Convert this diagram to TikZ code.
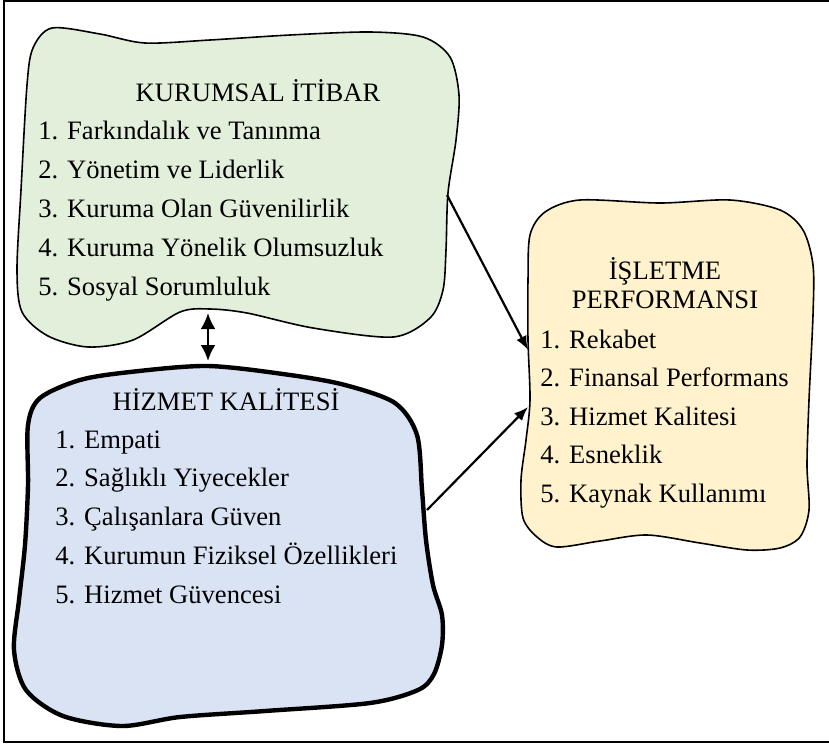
\documentclass[tikz,border=0pt]{standalone}
\usepackage{fontspec}
\setmainfont{Liberation Serif}
\usetikzlibrary{arrows.meta}

\definecolor{itibarfill}{HTML}{E2EFDA}
\definecolor{hizmetfill}{HTML}{DAE3F3}
\definecolor{isletmefill}{HTML}{FFF2CC}

\begin{document}
\begin{tikzpicture}[x=0.5pt, y=-0.5pt,
        every node/.style={font=\fontsize{13.3}{16}\selectfont, inner sep=0pt},
        itemtext/.style={anchor=base west},
        titletext/.style={anchor=base},
        link/.style={line width=1.1pt, -{Latex[length=7pt, width=5.5pt]}}]

        \useasboundingbox (0,0) rectangle (829,745);

        \draw[line width=1pt]
            (829,1.2) -- (3.5,1.2) -- (3.5,742) -- (829,742);

        \draw[line width=0.8pt, fill=itibarfill]
            plot[smooth cycle, tension=0.5] coordinates {
                (27,85) (33,48) (52,28) (100,34) (145,43) (210,40) (290,35)
                (370,32) (423,37) (450,57) (459,95) (456,140) (448,193)
                (446,250) (443,290) (430,318) (393,337) (313,328) (247,313)
                (210,309) (180,312) (133,340) (88,347) (48,336) (22,312)
                (17,270) (21,190)};

        \draw[line width=2.2pt, fill=hizmetfill]
            plot[smooth cycle, tension=0.5] coordinates {
                (28,425) (40,398) (80,380) (130,372) (208,366) (290,375)
                (345,385) (395,403) (417,435) (422,490) (426,540) (433,585)
                (442,615) (442,645) (434,674) (418,690) (370,703) (265,711)
                (180,717) (122,726) (63,716) (26,690) (14,650) (19,600)
                (25,545) (28,485)};

        \draw[line width=0.8pt, fill=isletmefill]
            plot[smooth cycle, tension=0.5] coordinates {
                (530,235) (545,212) (580,200) (660,203) (730,200) (780,210)
                (803,230) (813,265) (813,315) (809,400) (807,465) (809,510)
                (800,537) (780,548) (747,550) (700,543) (647,535) (600,541)
                (557,547) (537,537) (523,518) (521,480) (526,440) (530,400)
                (528,340) (528,280)};

        \node[titletext] (itibar) at (258,101) {KURUMSAL İTİBAR};
        \foreach \txt [count=\i] in {1. Farkındalık ve Tanınma,
                2. Yönetim ve Liderlik, 3. Kuruma Olan Güvenilirlik,
                4. Kuruma Yönelik Olumsuzluk, 5. Sosyal Sorumluluk}
            \node[itemtext] (itibar\i) at (38,100+39*\i) {\txt};

        \node[titletext] (hizmet) at (226,410) {HİZMET KALİTESİ};
        \foreach \txt [count=\i] in {1. Empati, 2. Sağlıklı Yiyecekler,
                3. Çalışanlara Güven, 4. Kurumun Fiziksel Özellikleri,
                5. Hizmet Güvencesi}
            \node[itemtext] (hizmet\i) at (55,409.25+38.75*\i) {\txt};

        \node[titletext] (isletme) at (665,279) {İŞLETME};
        \node[titletext] (performansi) at (665,308) {PERFORMANSI};
        \foreach \txt [count=\i] in {1. Rekabet, 2. Finansal Performans,
                3. Hizmet Kalitesi, 4. Esneklik, 5. Kaynak Kullanımı}
            \node[itemtext] (isletme\i) at (540,309.5+38.5*\i) {\txt};

        \coordinate (itibar-south) at (208,313);
        \coordinate (hizmet-north) at (208,361);
        \coordinate (itibar-east) at (447,195);
        \coordinate (hizmet-east) at (427,510);
        \coordinate (isletme-west1) at (528,350);
        \coordinate (isletme-west2) at (528,407);

        \draw[line width=1.3pt, {Latex[length=8pt, width=7.5pt]}-{Latex[length=8pt, width=7.5pt]}]
            (itibar-south) -- (hizmet-north);
        \draw[link] (itibar-east) -- (isletme-west1);
        \draw[link] (hizmet-east) -- (isletme-west2);

\end{tikzpicture}
\end{document}
